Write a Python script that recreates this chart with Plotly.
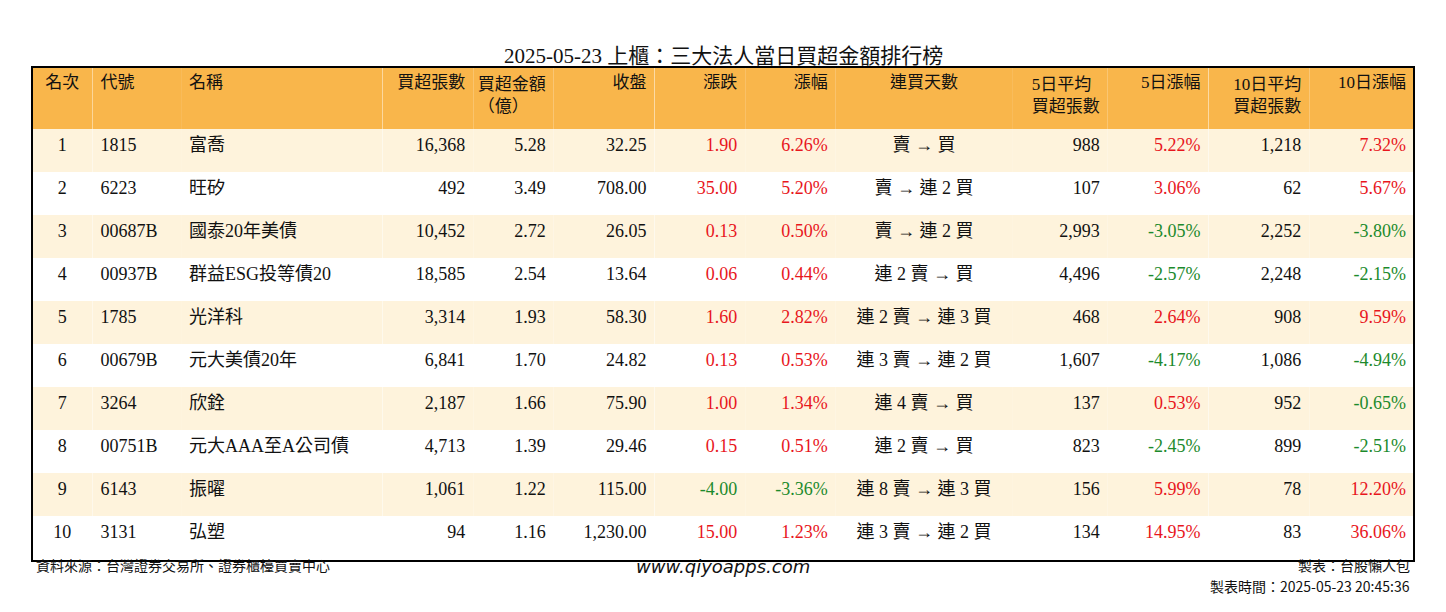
import plotly.graph_objects as go

W, H = 1446, 612
OFF = 8  # page body margin in the browser

ranks = [str(i) for i in range(1, 11)]
codes = ["1815", "6223", "00687B", "00937B", "1785", "00679B", "3264", "00751B", "6143", "3131"]
names = ["富喬", "旺矽", "國泰20年美債", "群益ESG投等債20", "光洋科", "元大美債20年", "欣銓", "元大AAA至A公司債", "振曜", "弘塑"]
net_lots = ["16,368", "492", "10,452", "18,585", "3,314", "6,841", "2,187", "4,713", "1,061", "94"]
net_amt = ["5.28", "3.49", "2.72", "2.54", "1.93", "1.70", "1.66", "1.39", "1.22", "1.16"]
close = ["32.25", "708.00", "26.05", "13.64", "58.30", "24.82", "75.90", "29.46", "115.00", "1,230.00"]
chg = ["1.90", "35.00", "0.13", "0.06", "1.60", "0.13", "1.00", "0.15", "-4.00", "15.00"]
chg_pct = ["6.26%", "5.20%", "0.50%", "0.44%", "2.82%", "0.53%", "1.34%", "0.51%", "-3.36%", "1.23%"]
streak = ["賣 → 買", "賣 → 連 2 買", "賣 → 連 2 買", "連 2 賣 → 買", "連 2 賣 → 連 3 買",
          "連 3 賣 → 連 2 買", "連 4 賣 → 買", "連 2 賣 → 買", "連 8 賣 → 連 3 買", "連 3 賣 → 連 2 買"]
avg5 = ["988", "107", "2,993", "4,496", "468", "1,607", "137", "823", "156", "134"]
pct5 = ["5.22%", "3.06%", "-3.05%", "-2.57%", "2.64%", "-4.17%", "0.53%", "-2.45%", "5.99%", "14.95%"]
avg10 = ["1,218", "62", "2,252", "2,248", "908", "1,086", "952", "899", "78", "83"]
pct10 = ["7.32%", "5.67%", "-3.80%", "-2.15%", "9.59%", "-4.94%", "-0.65%", "-2.51%", "12.20%", "36.06%"]

headers = ["名次", "代號", "名稱", "買超張數", "買超金額<br>（億）", "收盤", "漲跌", "漲幅", "連買天數",
           "5日平均<br>買超張數", "5日漲幅", "10日平均<br>買超張數", "10日漲幅"]
columns = [ranks, codes, names, net_lots, net_amt, close, chg, chg_pct, streak, avg5, pct5, avg10, pct10]
widths = [60, 88, 200, 90, 80, 100, 90, 90, 175, 95, 100, 100, 104]
align = ["center", "left", "left", "right", "right", "right", "right", "right", "center",
         "right", "right", "right", "right"]

RED, GREEN, BLACK = "#e8161c", "#1c8a2c", "#111111"


def sign_color(vals):
    return [GREEN if v.startswith("-") else RED for v in vals]


font_colors = [[BLACK] * 10] * 6 + [sign_color(chg), sign_color(chg_pct), [BLACK] * 10,
                                    [BLACK] * 10, sign_color(pct5), [BLACK] * 10, sign_color(pct10)]
row_fill = ["#fef3dc" if i % 2 == 0 else "white" for i in range(10)]

FONT = "Liberation Serif, Noto Sans CJK TC"


def px(x):
    return (x - OFF) / W


def py(y):
    return 1 - (y - OFF) / H


x0, x1 = px(32), px(1414)
y0, y1 = py(561), py(67)

fig = go.Figure(go.Table(
    domain=dict(x=[x0, x1], y=[y0, y1]),
    columnwidth=widths,
    header=dict(values=headers, align=["center", "left", "left"] + ["right"] * 5 + ["center"] + ["right"] * 4,
                fill_color="#f9b64b", line=dict(width=0), height=62,
                font=dict(family=FONT, size=17, color=BLACK)),
    cells=dict(values=columns, align=align, fill_color=[row_fill] * 13, line=dict(width=0), height=43,
               font=dict(family=FONT, size=18, color=font_colors)),
))

fig.add_shape(type="rect", xref="paper", yref="paper", x0=x0, x1=x1, y0=y0, y1=y1,
              line=dict(color="black", width=2))

fig.add_annotation(text="2025-05-23 上櫃：三大法人當日買超金額排行榜", x=px(723), y=py(42),
                   xref="paper", yref="paper", showarrow=False,
                   font=dict(family=FONT, size=21, color=BLACK))
fig.add_annotation(text="資料來源：台灣證券交易所、證券櫃檯買賣中心", x=px(34), y=py(577), xanchor="left",
                   xref="paper", yref="paper", showarrow=False,
                   font=dict(family="Noto Sans CJK TC", size=14, color=BLACK))
fig.add_annotation(text="<i>www.qiyoapps.com</i>", x=px(723), y=py(579),
                   xref="paper", yref="paper", showarrow=False,
                   font=dict(family="DejaVu Sans", size=18, color=BLACK))
fig.add_annotation(text="製表：台股懶人包", x=px(1412), y=py(577), xanchor="right",
                   xref="paper", yref="paper", showarrow=False,
                   font=dict(family="Noto Sans CJK TC", size=14, color=BLACK))
fig.add_annotation(text="製表時間：2025-05-23 20:45:36", x=px(1412), y=py(598), xanchor="right",
                   xref="paper", yref="paper", showarrow=False,
                   font=dict(family="Noto Sans CJK TC", size=14, color=BLACK))

fig.update_layout(width=W, height=H, margin=dict(l=0, r=0, t=0, b=0),
                  paper_bgcolor="white", plot_bgcolor="white")

fig.write_html("out.html")
